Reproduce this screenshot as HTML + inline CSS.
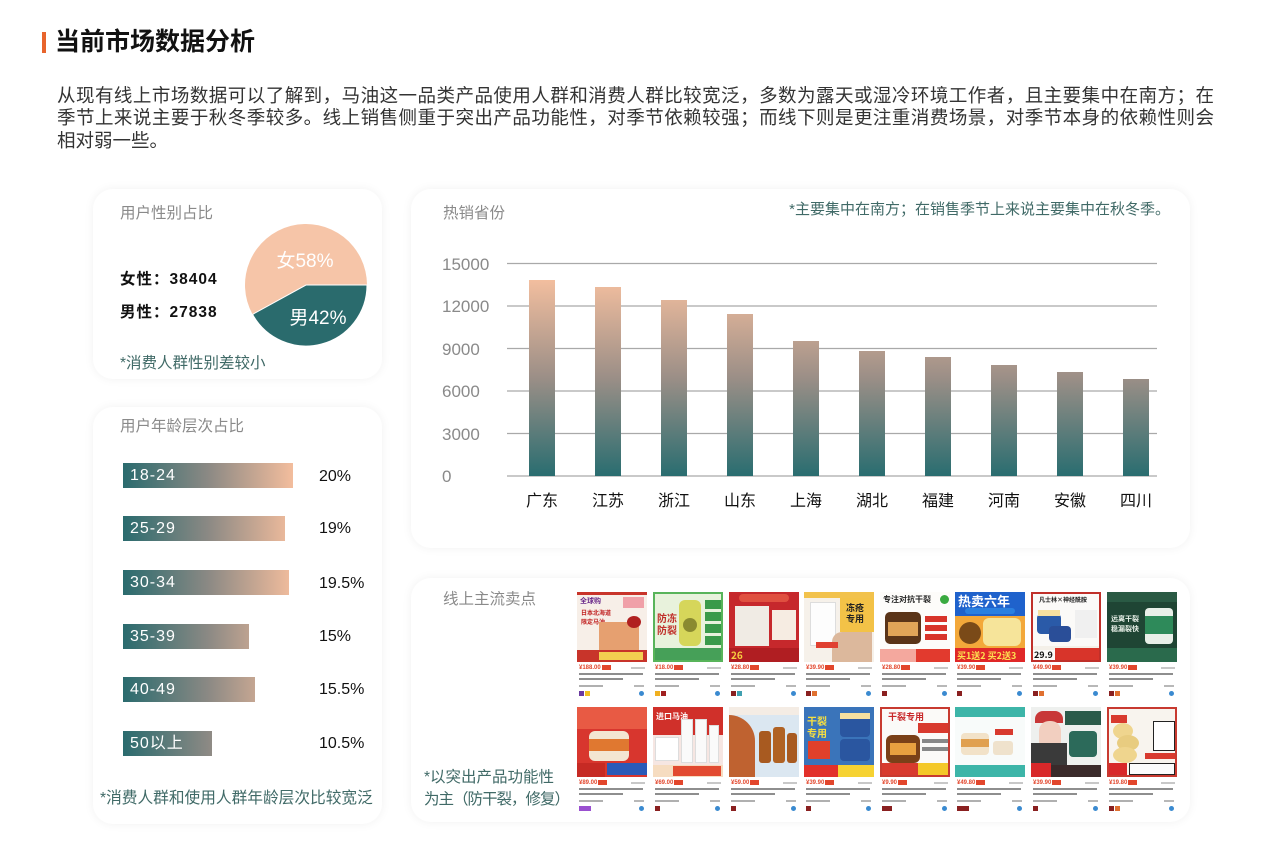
<!DOCTYPE html>
<html><head><meta charset="utf-8">
<style>
*{margin:0;padding:0;box-sizing:border-box}
html,body{width:1280px;height:854px;overflow:hidden;background:#fff}
body{position:relative;font-family:"Liberation Sans","Noto Sans CJK SC",sans-serif;color:#222}
.a{position:absolute}
.card{position:absolute;background:#fff;border-radius:20px;box-shadow:0 0 10px rgba(0,0,0,0.06)}
.para{position:absolute;left:57px;width:1157px;font-size:18.5px;line-height:23px;color:#333;white-space:nowrap;overflow:hidden;height:23px}
.just{text-align:justify;text-align-last:justify;white-space:normal}
.gt{position:absolute;font-size:15.5px;color:#8a8a8a;line-height:20px;white-space:nowrap}
.note{position:absolute;color:#406a67;line-height:20px;white-space:nowrap}
.bar{position:absolute;left:123px;height:25px;background:linear-gradient(90deg,#2a6b6e 0%,#8b8984 50%,#f3bd9d 100%);background-size:170px 100%;background-repeat:no-repeat}
.bl{position:absolute;left:7px;top:2px;font-size:16px;line-height:21px;color:#fff;letter-spacing:1px}
.pc{position:absolute;left:319px;font-size:16px;line-height:20px;color:#111}
.p{position:absolute;width:70px;height:110px}
.im{position:absolute;left:0;top:0;width:70px;height:70px;overflow:hidden;background:#f6f2ee}
.im div{position:absolute}
.pr{position:absolute;left:2px;top:73px;font-size:6px;line-height:7px;color:#e2462c;font-weight:bold}
.tg{display:inline-block;width:9px;height:5px;background:#e2462c;margin-left:1px;vertical-align:middle}
.rt{position:absolute;right:2px;top:75px;width:14px;height:2px;background:#c8c8c8}
.l1{position:absolute;left:2px;top:81px;width:64px;height:2px;background:#8e8e8e}
.l2{position:absolute;left:2px;top:86px;width:44px;height:2px;background:#8e8e8e}
.st{position:absolute;left:2px;top:93px;width:24px;height:2px;background:#b0b0b0}
.st2{position:absolute;right:3px;top:93px;width:10px;height:2px;background:#b8b8b8}
.i1{position:absolute;left:2px;top:99px;width:5px;height:5px;background:#8a2020}
.i2{position:absolute;left:8px;top:99px;width:5px;height:5px;background:#e07030}
.i3{position:absolute;right:3px;top:99px;width:5px;height:5px;border-radius:50%;background:#3a8ad0}
.tx{font-family:"Noto Sans CJK SC",sans-serif;font-weight:bold;white-space:nowrap}
</style></head><body>

<div class="a" style="left:42px;top:32px;width:4px;height:21px;background:#e8642c"></div>
<div class="a" style="left:55px;top:27px;font-size:25px;line-height:30px;font-weight:bold;color:#111;white-space:nowrap">当前市场数据分析</div>

<div class="para just" style="top:84px">从现有线上市场数据可以了解到，马油这一品类产品使用人群和消费人群比较宽泛，多数为露天或湿冷环境工作者，且主要集中在南方；在</div>
<div class="para just" style="top:106px">季节上来说主要于秋冬季较多。线上销售侧重于突出产品功能性，对季节依赖较强；而线下则是更注重消费场景，对季节本身的依赖性则会</div>
<div class="para" style="top:129px">相对弱一些。</div>

<!-- cards -->
<div class="card" style="left:93px;top:189px;width:289px;height:190px"></div>
<div class="card" style="left:93px;top:407px;width:289px;height:417px"></div>
<div class="card" style="left:411px;top:189px;width:779px;height:359px"></div>
<div class="card" style="left:411px;top:578px;width:779px;height:244px"></div>

<!-- gender card -->
<div class="gt" style="left:120px;top:204px">用户性别占比</div>
<div class="a" style="left:120px;top:269px;font-size:15.5px;line-height:22px;font-weight:bold;color:#111;letter-spacing:1px;white-space:nowrap">女性：38404</div>
<div class="a" style="left:120px;top:302px;font-size:15.5px;line-height:22px;font-weight:bold;color:#111;letter-spacing:1px;white-space:nowrap">男性：27838</div>
<div class="note" style="left:120px;top:354px;font-size:15.5px">*消费人群性别差较小</div>

<!-- age card -->
<div class="gt" style="left:120px;top:417px">用户年龄层次占比</div>
<div class="bar" style="top:463px;width:170px"><span class="bl">18-24</span></div>
<div class="pc" style="top:467px">20%</div>
<div class="bar" style="top:516px;width:162px"><span class="bl">25-29</span></div>
<div class="pc" style="top:519px">19%</div>
<div class="bar" style="top:570px;width:166px"><span class="bl">30-34</span></div>
<div class="pc" style="top:574px">19.5%</div>
<div class="bar" style="top:624px;width:126px"><span class="bl">35-39</span></div>
<div class="pc" style="top:627px">15%</div>
<div class="bar" style="top:677px;width:132px"><span class="bl">40-49</span></div>
<div class="pc" style="top:680px">15.5%</div>
<div class="bar" style="top:731px;width:89px"><span class="bl">50以上</span></div>
<div class="pc" style="top:734px">10.5%</div>
<div class="note" style="left:100px;top:789px;font-size:15.7px">*消费人群和使用人群年龄层次比较宽泛</div>

<!-- chart card texts -->
<div class="gt" style="left:443px;top:204px">热销省份</div>
<div class="note" style="right:110px;top:200px;font-size:15px">*主要集中在南方；在销售季节上来说主要集中在秋冬季。</div>

<svg class="a" style="left:0;top:0" width="1280" height="854" viewBox="0 0 1280 854">
<defs>
<linearGradient id="bg" gradientUnits="userSpaceOnUse" x1="0" y1="278" x2="0" y2="476">
<stop offset="0" stop-color="#f4bf9f"/>
<stop offset="0.5" stop-color="#9c8f87"/>
<stop offset="1" stop-color="#296d70"/>
</linearGradient>
</defs>
<!-- pie -->
<path d="M306,285 L252.55,314.39 A61,61 0 1 1 367,285 Z" fill="#f6c5a8"/>
<path d="M306,285 L367,285 A61,61 0 0 1 252.55,314.39 Z" fill="#2a6b6d" stroke="#fff" stroke-width="1"/>
<text x="305" y="267" font-size="19" fill="#fff" text-anchor="middle" font-family="Liberation Sans, Noto Sans CJK SC, sans-serif">女58%</text>
<text x="318" y="324" font-size="19" fill="#fff" text-anchor="middle" font-family="Liberation Sans, Noto Sans CJK SC, sans-serif">男42%</text>
<!-- grid -->
<g stroke="#a9a9a9" stroke-width="1.2">
<line x1="507" y1="263.5" x2="1157" y2="263.5"/>
<line x1="507" y1="306" x2="1157" y2="306"/>
<line x1="507" y1="348.5" x2="1157" y2="348.5"/>
<line x1="507" y1="391" x2="1157" y2="391"/>
<line x1="507" y1="433.5" x2="1157" y2="433.5"/>
<line x1="507" y1="476" x2="1157" y2="476"/>
</g>
<g font-size="17" fill="#8a8a8a" font-family="Liberation Sans, sans-serif">
<text x="442" y="270">15000</text>
<text x="442" y="312">12000</text>
<text x="442" y="355">9000</text>
<text x="442" y="397">6000</text>
<text x="442" y="440">3000</text>
<text x="442" y="482">0</text>
</g>
<g fill="url(#bg)">
<rect x="529" y="280" width="26" height="196"/>
<rect x="595" y="287" width="26" height="189"/>
<rect x="661" y="300" width="26" height="176"/>
<rect x="727" y="314" width="26" height="162"/>
<rect x="793" y="341" width="26" height="135"/>
<rect x="859" y="351" width="26" height="125"/>
<rect x="925" y="357" width="26" height="119"/>
<rect x="991" y="365" width="26" height="111"/>
<rect x="1057" y="372" width="26" height="104"/>
<rect x="1123" y="379" width="26" height="97"/>
</g>
<g font-size="16" fill="#111" text-anchor="middle" font-family="Noto Sans CJK SC, sans-serif">
<text x="542" y="506">广东</text>
<text x="608" y="506">江苏</text>
<text x="674" y="506">浙江</text>
<text x="740" y="506">山东</text>
<text x="806" y="506">上海</text>
<text x="872" y="506">湖北</text>
<text x="938" y="506">福建</text>
<text x="1004" y="506">河南</text>
<text x="1070" y="506">安徽</text>
<text x="1136" y="506">四川</text>
</g>
</svg>

<!-- bottom card -->
<div class="gt" style="left:443px;top:590px">线上主流卖点</div>
<div class="note" style="left:424px;top:768px;font-size:15.5px">*以突出产品功能性</div>
<div class="note" style="left:424px;top:790px;font-size:15.5px;letter-spacing:-1px">为主（防干裂，修复）</div>

<!-- row 1 -->
<div class="p" style="left:577px;top:592px">
 <div class="im" style="background:#f7efe8">
  <div style="left:0;top:0;width:70px;height:3px;background:#c8342a"></div>
  <div class="tx" style="left:3px;top:4px;font-size:7px;color:#6a2a8a">全球购</div>
  <div style="left:46px;top:5px;width:21px;height:11px;background:#f0a0a8"></div>
  <div class="tx" style="left:4px;top:16px;font-size:6px;color:#c02020">日本北海道<br>限定马油</div>
  <div style="left:22px;top:30px;width:40px;height:28px;background:#e6a070"></div>
  <div style="left:50px;top:24px;width:14px;height:12px;border-radius:50%;background:#b02020"></div>
  <div style="left:0;top:58px;width:70px;height:12px;background:#c8342a"></div>
  <div style="left:22px;top:60px;width:44px;height:8px;background:#f3d050"></div>
 </div>
 <div class="pr">¥188.00<span class="tg"></span></div><div class="rt"></div><div class="l1"></div><div class="l2"></div><div class="st"></div><div class="st2"></div><div class="i1" style="background:#6a3aa0"></div><div class="i2" style="background:#f0c020"></div><div class="i3"></div>
</div>
<div class="p" style="left:653px;top:592px">
 <div class="im" style="background:#e8f2dc;border:2px solid #58b45a">
  <div class="tx" style="left:2px;top:18px;font-size:10px;line-height:12px;color:#c0302a">防冻<br>防裂</div>
  <div style="left:24px;top:6px;width:22px;height:46px;border-radius:6px;background:#d6d65a"></div>
  <div style="left:28px;top:24px;width:14px;height:14px;border-radius:50%;background:#8a8a30"></div>
  <div style="left:50px;top:6px;width:16px;height:9px;background:#3a9a4a"></div>
  <div style="left:50px;top:18px;width:16px;height:9px;background:#3a9a4a"></div>
  <div style="left:50px;top:30px;width:16px;height:9px;background:#3a9a4a"></div>
  <div style="left:50px;top:42px;width:16px;height:9px;background:#3a9a4a"></div>
  <div style="left:0;top:54px;width:70px;height:12px;background:#46a058"></div>
 </div>
 <div class="pr">¥18.00<span class="tg"></span></div><div class="rt"></div><div class="l1"></div><div class="l2"></div><div class="st"></div><div class="st2"></div><div class="i1" style="background:#f0b020"></div><div class="i2" style="background:#a02020"></div><div class="i3"></div>
</div>
<div class="p" style="left:729px;top:592px">
 <div class="im" style="background:#c6282c">
  <div style="left:10px;top:2px;width:50px;height:8px;background:#e05040;border-radius:4px"></div>
  <div style="left:6px;top:14px;width:34px;height:40px;background:#f0ebe4"></div>
  <div style="left:43px;top:18px;width:24px;height:30px;background:#f6ece2"></div>
  <div style="left:0;top:56px;width:70px;height:14px;background:#b01e22"></div>
  <div class="tx" style="left:2px;top:55px;font-size:10px;color:#f8d040">26</div>
 </div>
 <div class="pr">¥28.80<span class="tg"></span></div><div class="rt"></div><div class="l1"></div><div class="l2"></div><div class="st"></div><div class="st2"></div><div class="i1"></div><div class="i2" style="background:#40a0b0"></div><div class="i3"></div>
</div>
<div class="p" style="left:804px;top:592px">
 <div class="im" style="background:#f6f1ea">
  <div style="left:0;top:0;width:70px;height:6px;background:#f2c24c"></div>
  <div style="left:36px;top:6px;width:34px;height:34px;background:#f3c247"></div>
  <div class="tx" style="left:42px;top:10px;font-size:9px;line-height:11px;color:#222">冻疮<br>专用</div>
  <div style="left:6px;top:10px;width:26px;height:44px;background:#fdfdfd;border:1px solid #ddd"></div>
  <div style="left:28px;top:40px;width:40px;height:30px;background:#dcb89c;border-radius:10px 0 0 0"></div>
  <div style="left:12px;top:50px;width:22px;height:6px;background:#e04030"></div>
 </div>
 <div class="pr">¥39.90<span class="tg"></span></div><div class="rt"></div><div class="l1"></div><div class="l2"></div><div class="st"></div><div class="st2"></div><div class="i1"></div><div class="i2"></div><div class="i3"></div>
</div>
<div class="p" style="left:880px;top:592px">
 <div class="im" style="background:#fdfcfa">
  <div class="tx" style="left:3px;top:2px;font-size:8px;color:#222">专注对抗干裂</div>
  <div style="left:60px;top:3px;width:9px;height:9px;border-radius:50%;background:#3aaa40"></div>
  <div style="left:5px;top:20px;width:36px;height:32px;border-radius:5px;background:#5a3418"></div>
  <div style="left:8px;top:30px;width:30px;height:14px;background:#e0a458"></div>
  <div style="left:45px;top:24px;width:22px;height:6px;background:#d8342a"></div>
  <div style="left:45px;top:33px;width:22px;height:6px;background:#d8342a"></div>
  <div style="left:45px;top:42px;width:22px;height:6px;background:#d8342a"></div>
  <div style="left:0;top:57px;width:36px;height:13px;background:#f4a89e"></div>
  <div style="left:36px;top:57px;width:34px;height:13px;background:#e23a2e"></div>
 </div>
 <div class="pr">¥28.80<span class="tg"></span></div><div class="rt"></div><div class="l1"></div><div class="l2"></div><div class="st"></div><div class="st2"></div><div class="i1"></div><div class="i3"></div>
</div>
<div class="p" style="left:955px;top:592px">
 <div class="im" style="background:#f3a83a">
  <div style="left:0;top:0;width:70px;height:24px;background:#1f62cc"></div>
  <div class="tx" style="left:3px;top:1px;font-size:13px;line-height:15px;color:#fff">热卖六年</div>
  <div style="left:10px;top:16px;width:50px;height:6px;background:#2a80e0;border-radius:3px"></div>
  <div style="left:4px;top:30px;width:22px;height:22px;border-radius:50%;background:#7a4a18"></div>
  <div style="left:28px;top:26px;width:38px;height:28px;border-radius:6px;background:#f6e49a"></div>
  <div style="left:0;top:56px;width:70px;height:14px;background:#e02828"></div>
  <div class="tx" style="left:2px;top:57px;font-size:9px;color:#fde050">买1送2 买2送3</div>
 </div>
 <div class="pr">¥39.90<span class="tg"></span></div><div class="rt"></div><div class="l1"></div><div class="l2"></div><div class="st"></div><div class="st2"></div><div class="i1"></div><div class="i3"></div>
</div>
<div class="p" style="left:1031px;top:592px">
 <div class="im" style="background:#fbfaf8;border:2px solid #c0302a">
  <div class="tx" style="left:6px;top:1px;font-size:6px;color:#222">凡士林×神经酰胺</div>
  <div style="left:4px;top:20px;width:24px;height:20px;border-radius:4px;background:#2a5aa8"></div>
  <div style="left:5px;top:16px;width:22px;height:6px;background:#f6e0a0"></div>
  <div style="left:16px;top:32px;width:22px;height:16px;border-radius:4px;background:#2a4e98"></div>
  <div style="left:42px;top:16px;width:22px;height:28px;background:#f0f0f0"></div>
  <div style="left:0;top:52px;width:70px;height:4px;background:#f4f0e8"></div>
  <div style="left:22px;top:54px;width:46px;height:12px;background:#d8342a"></div>
  <div class="tx" style="left:1px;top:54px;font-size:9px;color:#111">29.9</div>
 </div>
 <div class="pr">¥49.90<span class="tg"></span></div><div class="rt"></div><div class="l1"></div><div class="l2"></div><div class="st"></div><div class="st2"></div><div class="i1"></div><div class="i2"></div><div class="i3"></div>
</div>
<div class="p" style="left:1107px;top:592px">
 <div class="im" style="background:#1f4534">
  <div style="left:0;top:0;width:70px;height:10px;background:#2a5a44"></div>
  <div class="tx" style="left:4px;top:22px;font-size:7px;line-height:10px;color:#e8f0e8">远离干裂<br>稳漏裂快</div>
  <div style="left:38px;top:16px;width:28px;height:36px;border-radius:4px;background:#e8efe8"></div>
  <div style="left:38px;top:24px;width:28px;height:18px;background:#2e8a5a"></div>
  <div style="left:0;top:56px;width:70px;height:14px;background:#2a6a4c"></div>
 </div>
 <div class="pr">¥39.90<span class="tg"></span></div><div class="rt"></div><div class="l1"></div><div class="l2"></div><div class="st"></div><div class="st2"></div><div class="i1"></div><div class="i2"></div><div class="i3"></div>
</div>

<!-- row 2 -->
<div class="p" style="left:577px;top:707px">
 <div class="im" style="background:#d8362e">
  <div style="left:0;top:0;width:70px;height:22px;background:#e85a44"></div>
  <div style="left:12px;top:24px;width:40px;height:30px;border-radius:6px;background:#f3e6d2"></div>
  <div style="left:12px;top:32px;width:40px;height:12px;background:#e07830"></div>
  <div style="left:0;top:56px;width:28px;height:14px;background:#c62a24"></div>
  <div style="left:30px;top:56px;width:40px;height:12px;background:#2a5ab8"></div>
 </div>
 <div class="pr">¥89.00<span class="tg"></span></div><div class="rt"></div><div class="l1"></div><div class="l2"></div><div class="st"></div><div class="st2"></div><div class="i1" style="background:#9a50d0;width:12px"></div><div class="i3"></div>
</div>
<div class="p" style="left:653px;top:707px">
 <div class="im" style="background:#f6e6e2">
  <div style="left:0;top:0;width:70px;height:28px;background:#d0302a"></div>
  <div class="tx" style="left:3px;top:4px;font-size:8px;color:#fff">进口马油</div>
  <div style="left:28px;top:12px;width:12px;height:44px;background:#fafafa;border:1px solid #ddd"></div>
  <div style="left:42px;top:12px;width:12px;height:44px;background:#fafafa;border:1px solid #ddd"></div>
  <div style="left:56px;top:18px;width:10px;height:38px;background:#fafafa;border:1px solid #ddd"></div>
  <div style="left:2px;top:30px;width:24px;height:24px;background:#fff;border:1px solid #ddd"></div>
  <div style="left:0;top:58px;width:70px;height:12px;background:#f6dcc0"></div>
  <div style="left:20px;top:59px;width:48px;height:10px;background:#e24a30"></div>
 </div>
 <div class="pr">¥69.00<span class="tg"></span></div><div class="rt"></div><div class="l1"></div><div class="l2"></div><div class="st"></div><div class="st2"></div><div class="i1"></div><div class="i3"></div>
</div>
<div class="p" style="left:729px;top:707px">
 <div class="im" style="background:#dbe7f1">
  <div style="left:0;top:0;width:70px;height:8px;background:#f4ece4"></div>
  <div style="left:0;top:8px;width:26px;height:62px;background:#bf6230;border-radius:0 30px 0 0"></div>
  <div style="left:30px;top:24px;width:12px;height:32px;background:#a85a20;border-radius:3px"></div>
  <div style="left:44px;top:20px;width:12px;height:36px;background:#b06224;border-radius:3px"></div>
  <div style="left:58px;top:26px;width:10px;height:30px;background:#a85a20;border-radius:3px"></div>
 </div>
 <div class="pr">¥59.00<span class="tg"></span></div><div class="rt"></div><div class="l1"></div><div class="l2"></div><div class="st"></div><div class="st2"></div><div class="i1"></div><div class="i3"></div>
</div>
<div class="p" style="left:804px;top:707px">
 <div class="im" style="background:#3a74ba">
  <div class="tx" style="left:3px;top:8px;font-size:10px;line-height:12px;color:#f8e040">干裂<br>专用</div>
  <div style="left:36px;top:8px;width:30px;height:22px;border-radius:4px;background:#2a56a0"></div>
  <div style="left:36px;top:6px;width:30px;height:6px;background:#f6e0a0"></div>
  <div style="left:36px;top:32px;width:30px;height:22px;border-radius:4px;background:#2a56a0"></div>
  <div style="left:4px;top:34px;width:22px;height:18px;background:#e0402a"></div>
  <div style="left:0;top:58px;width:34px;height:12px;background:#e2302a"></div>
  <div style="left:34px;top:58px;width:36px;height:12px;background:#f6d232"></div>
 </div>
 <div class="pr">¥39.90<span class="tg"></span></div><div class="rt"></div><div class="l1"></div><div class="l2"></div><div class="st"></div><div class="st2"></div><div class="i1"></div><div class="i3"></div>
</div>
<div class="p" style="left:880px;top:707px">
 <div class="im" style="background:#fbfaf8;border:2px solid #c83a30">
  <div class="tx" style="left:6px;top:1px;font-size:9px;color:#c8282a">干裂专用</div>
  <div style="left:36px;top:14px;width:30px;height:10px;background:#d83a2e"></div>
  <div style="left:4px;top:26px;width:34px;height:28px;border-radius:6px;background:#7a4018"></div>
  <div style="left:8px;top:34px;width:26px;height:12px;background:#e8a040"></div>
  <div style="left:40px;top:30px;width:26px;height:4px;background:#888"></div>
  <div style="left:40px;top:38px;width:26px;height:4px;background:#888"></div>
  <div style="left:0;top:54px;width:36px;height:12px;background:#d83a2e"></div>
  <div style="left:36px;top:54px;width:30px;height:12px;background:#f4c828"></div>
 </div>
 <div class="pr">¥9.90<span class="tg"></span></div><div class="rt"></div><div class="l1"></div><div class="l2"></div><div class="st"></div><div class="st2"></div><div class="i1" style="width:10px"></div><div class="i3"></div>
</div>
<div class="p" style="left:955px;top:707px">
 <div class="im" style="background:#f8fbfa">
  <div style="left:0;top:0;width:70px;height:10px;background:#3db5a8"></div>
  <div style="left:6px;top:26px;width:28px;height:22px;border-radius:4px;background:#f2e2c8"></div>
  <div style="left:6px;top:32px;width:28px;height:8px;background:#e0a050"></div>
  <div style="left:40px;top:22px;width:18px;height:6px;background:#d83a2e"></div>
  <div style="left:38px;top:34px;width:20px;height:14px;border-radius:3px;background:#efe2cc"></div>
  <div style="left:0;top:58px;width:70px;height:12px;background:#3db5a8"></div>
 </div>
 <div class="pr">¥49.80<span class="tg"></span></div><div class="rt"></div><div class="l1"></div><div class="l2"></div><div class="st"></div><div class="st2"></div><div class="i1" style="width:12px"></div><div class="i3"></div>
</div>
<div class="p" style="left:1031px;top:707px">
 <div class="im" style="background:#eef0ee">
  <div style="left:4px;top:4px;width:28px;height:12px;background:#c83838;border-radius:8px 8px 0 0"></div>
  <div style="left:8px;top:14px;width:22px;height:30px;border-radius:10px;background:#f2cfc0"></div>
  <div style="left:0;top:36px;width:36px;height:34px;background:#3a3a3a"></div>
  <div style="left:34px;top:4px;width:36px;height:14px;background:#2a5a4a"></div>
  <div style="left:38px;top:24px;width:28px;height:26px;border-radius:4px;background:#2c6a5a"></div>
  <div style="left:0;top:56px;width:20px;height:14px;background:#d8282a"></div>
  <div style="left:20px;top:58px;width:50px;height:12px;background:#3a2a2a"></div>
 </div>
 <div class="pr">¥39.90<span class="tg"></span></div><div class="rt"></div><div class="l1"></div><div class="l2"></div><div class="st"></div><div class="st2"></div><div class="i1"></div><div class="i3"></div>
</div>
<div class="p" style="left:1107px;top:707px">
 <div class="im" style="background:#f8f4ee;border:2px solid #c83a30">
  <div style="left:2px;top:6px;width:16px;height:8px;background:#d83a2e"></div>
  <div style="left:4px;top:14px;width:20px;height:16px;border-radius:50%;background:#efd58e"></div>
  <div style="left:8px;top:26px;width:22px;height:16px;border-radius:50%;background:#e8cc80"></div>
  <div style="left:4px;top:38px;width:24px;height:16px;border-radius:50%;background:#efd58e"></div>
  <div style="left:44px;top:12px;width:22px;height:30px;background:#fff;border:1px solid #222"></div>
  <div style="left:36px;top:44px;width:30px;height:6px;background:#d83a2e"></div>
  <div style="left:0;top:54px;width:18px;height:12px;background:#d8282a"></div>
  <div style="left:20px;top:54px;width:46px;height:12px;background:#fbfbfb;border:1px solid #222"></div>
 </div>
 <div class="pr">¥19.80<span class="tg"></span></div><div class="rt"></div><div class="l1"></div><div class="l2"></div><div class="st"></div><div class="st2"></div><div class="i1"></div><div class="i2"></div><div class="i3"></div>
</div>

</body></html>
